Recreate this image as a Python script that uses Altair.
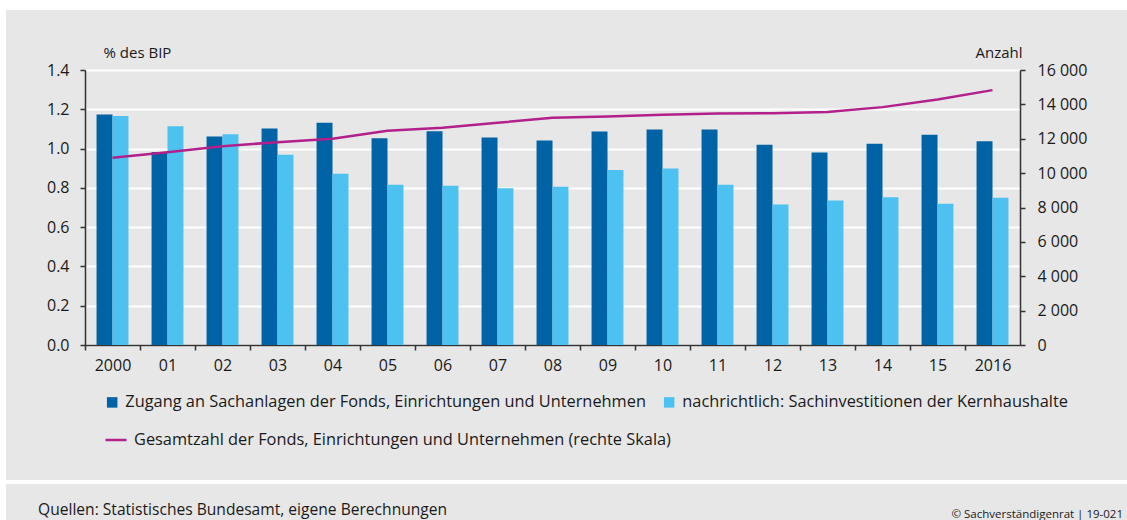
import altair as alt
import pandas as pd

years = ["2000", "01", "02", "03", "04", "05", "06", "07", "08", "09",
         "10", "11", "12", "13", "14", "15", "2016"]
zugang = [1.173, 0.983, 1.061, 1.102, 1.131, 1.053, 1.088, 1.056, 1.041,
          1.087, 1.097, 1.097, 1.020, 0.980, 1.024, 1.070, 1.037]
kern = [1.166, 1.114, 1.073, 0.969, 0.872, 0.816, 0.811, 0.798, 0.806,
        0.891, 0.898, 0.816, 0.715, 0.736, 0.752, 0.719, 0.750]
anzahl = [10890, 11220, 11570, 11800, 12000, 12460, 12640, 12930, 13220,
          13300, 13400, 13470, 13480, 13550, 13840, 14290, 14830]
left_ticks = [0, 0.2, 0.4, 0.6, 0.8, 1.0, 1.2, 1.4]
right_ticks = [0, 2000, 4000, 6000, 8000, 10000, 12000, 14000, 16000]

S1 = "Zugang an Sachanlagen der Fonds, Einrichtungen und Unternehmen"
S2 = "nachrichtlich: Sachinvestitionen der Kernhaushalte"
S3 = "Gesamtzahl der Fonds, Einrichtungen und Unternehmen (rechte Skala)"
SOURCE = "Quellen: Statistisches Bundesamt, eigene Berechnungen"
COPY = "© Sachverständigenrat | 19-021"

DARK = "#0063a5"
LIGHT = "#4dc2f1"
MAG = "#b2208b"
BG = "#e7e7e7"
AX = "#333333"
TXT = "#1a1a1a"
FONT = "Open Sans"

bars_df = pd.DataFrame({
    "Jahr": years * 2,
    "Reihe": [S1] * len(years) + [S2] * len(years),
    "Wert": zugang + kern,
})
line_df = pd.DataFrame({"Jahr": years, "Anzahl": anzahl, "Reihe": [S3] * len(years)})

x_enc = alt.X(
    "Jahr:N", sort=years,
    scale=alt.Scale(paddingInner=0.42, paddingOuter=0.21),
    axis=alt.Axis(title=None, tickOffset=-27.5, labelOffset=27.5, labelAngle=0,
                  labelFontSize=16, labelPadding=7, labelColor=TXT,
                  tickSize=5, tickColor=AX, tickWidth=1.5,
                  domainColor=AX, domainWidth=1.5, grid=False),
)

bars = alt.Chart(bars_df).mark_bar().encode(
    x=x_enc,
    xOffset=alt.XOffset("Reihe:N", sort=[S1, S2],
                        scale=alt.Scale(paddingInner=0, paddingOuter=0)),
    y=alt.Y("Wert:Q", scale=alt.Scale(domain=[0, 1.4], nice=False),
            axis=alt.Axis(title="% des BIP", values=left_ticks, format=".1f",
                          grid=True, gridColor="white", gridWidth=2,
                          labelFontSize=16, labelPadding=11, labelColor=TXT,
                          tickSize=5, tickColor=AX, tickWidth=1.5,
                          domainColor=AX, domainWidth=1.5,
                          titleAngle=0, titleX=18, titleY=-13, titleAlign="left",
                          titleBaseline="alphabetic", titleFontWeight="normal",
                          titleFontSize=15, titleColor=TXT)),
    color=alt.Color("Reihe:N", sort=[S1, S2],
                    scale=alt.Scale(domain=[S1, S2], range=[DARK, LIGHT]),
                    legend=alt.Legend(title=None, orient="none", legendX=19, legendY=324,
                                      direction="horizontal", symbolType="square",
                                      symbolSize=110, symbolStrokeWidth=0,
                                      labelFontSize=16.35, labelOffset=5, columnPadding=15,
                                      labelLimit=0, labelColor=TXT)),
)

line = alt.Chart(line_df).mark_line(strokeWidth=2.5).encode(
    x=alt.X("Jahr:N", sort=years),
    y=alt.Y("Anzahl:Q", scale=alt.Scale(domain=[0, 16000], nice=False),
            axis=alt.Axis(orient="right", title="Anzahl", values=right_ticks,
                          labelExpr="replace(format(datum.value, ','), ',', ' ')",
                          grid=False, labelFontSize=16, labelPadding=12, labelColor=TXT,
                          tickSize=5, tickColor=AX, tickWidth=1.5,
                          domainColor=AX, domainWidth=1.5,
                          titleAngle=0, titleX=2, titleY=-13, titleAlign="right",
                          titleBaseline="alphabetic", titleFontWeight="normal",
                          titleFontSize=15, titleColor=TXT)),
    stroke=alt.Stroke("Reihe:N", scale=alt.Scale(domain=[S3], range=[MAG]),
                      legend=alt.Legend(title=None, orient="none", legendX=19, legendY=358,
                                        symbolType="stroke", symbolSize=441,
                                        symbolStrokeWidth=2.5, labelFontSize=16.35,
                                        labelOffset=6, labelLimit=0, labelColor=TXT)),
)

one = alt.Data(values=[{"k": 1}])
# white strips framing the grey panels (decoration)
strip_top = alt.Chart(one).mark_rect(color="white").encode(
    x=alt.value(-85), x2=alt.value(1042), y=alt.value(-70), y2=alt.value(-60))
strip_left = alt.Chart(one).mark_rect(color="white").encode(
    x=alt.value(-85), x2=alt.value(-79), y=alt.value(-70), y2=alt.value(450))
strip_mid = alt.Chart(one).mark_rect(color="white").encode(
    x=alt.value(-85), x2=alt.value(1042), y=alt.value(410), y2=alt.value(414))

source = alt.Chart(one).mark_text(align="left", baseline="alphabetic", fontSize=15.6,
                                  color=TXT, font=FONT).encode(
    x=alt.value(-47), y=alt.value(445), text=alt.value(SOURCE))
copy = alt.Chart(one).mark_text(align="right", baseline="alphabetic", fontSize=11.5,
                                color=TXT, font=FONT).encode(
    x=alt.value(1038), y=alt.value(448), text=alt.value(COPY))

chart = alt.layer(strip_top, strip_left, strip_mid, bars, line, source, copy).resolve_scale(
    y="independent"
).properties(
    width=935, height=275,
    autosize=alt.AutoSizeParams(type="none"),
    padding={"left": 85, "top": 70, "right": 107, "bottom": 175},
    background=BG,
).configure_view(stroke=None).configure_axis(
    labelFont=FONT, titleFont=FONT
).configure_legend(labelFont=FONT)

chart.save("out.html", embed_options={"renderer": "svg", "actions": False})
